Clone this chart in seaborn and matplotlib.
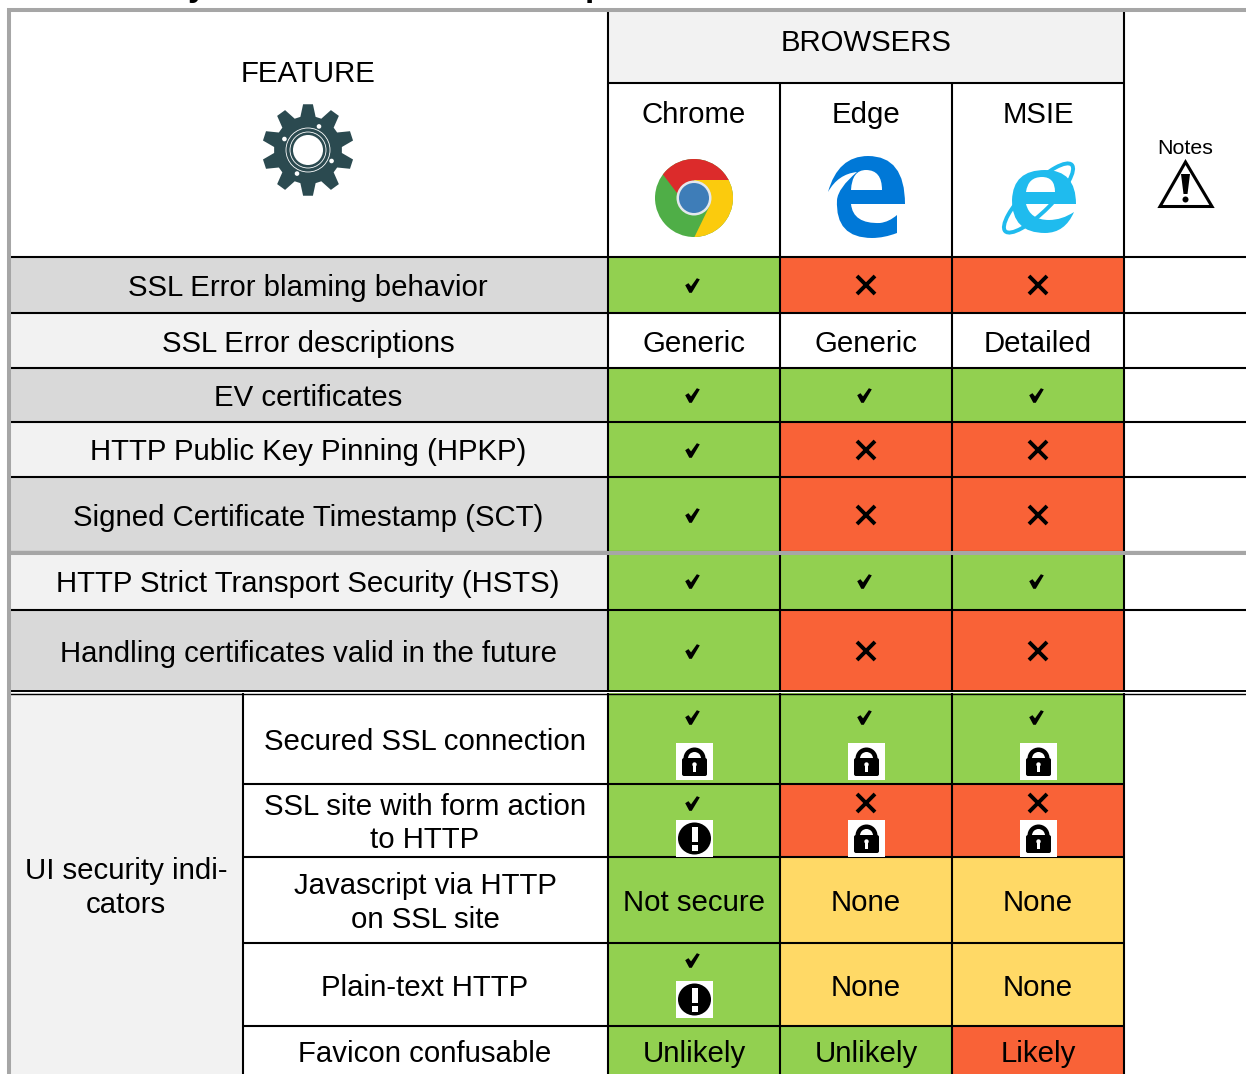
import matplotlib
matplotlib.use("Agg")
import matplotlib.pyplot as plt
import numpy as np
import seaborn as sns
from matplotlib.colors import ListedColormap
from matplotlib.patches import Circle, Ellipse, FancyBboxPatch, PathPatch, Polygon, Rectangle, Wedge
from matplotlib.path import Path

# --- table content ---
browsers = ["Chrome", "Edge", "MSIE"]
features = [
    "SSL Error blaming behavior",
    "SSL Error descriptions",
    "EV certificates",
    "HTTP Public Key Pinning (HPKP)",
    "Signed Certificate Timestamp (SCT)",
    "HTTP Strict Transport Security (HSTS)",
    "Handling certificates valid in the future",
]
feature_shade = ["dark", "light", "dark", "light", "dark", "light", "dark"]
chrome_feat = ["yes", "Generic", "yes", "yes", "yes", "yes", "yes"]
edge_feat = ["no", "Generic", "yes", "no", "no", "yes", "no"]
msie_feat = ["no", "Detailed", "yes", "no", "no", "yes", "no"]

group_label = "UI security indi-\ncators"
ui_rows = [
    "Secured SSL connection",
    "SSL site with form action\nto HTTP",
    "Javascript via HTTP\non SSL site",
    "Plain-text HTTP",
    "Favicon confusable",
]
chrome_ui = ["yes+lock", "yes+warn", "Not secure", "yes+warn", "Unlikely"]
edge_ui = ["yes+lock", "no+lock", "None", "None", "Unlikely"]
msie_ui = ["yes+lock", "no+lock", "None", "None", "Likely"]

# --- layout in pixels ---
col_edges = [0, 10, 243, 608, 780, 952, 1124, 1246]
head_edges = [0, 12, 83, 257]
feat_edges = [257, 313, 368, 422, 477, 552, 610, 691]
ui_edges = [693, 784, 857, 943, 1026, 1074]

colors = {
    "white": "#FFFFFF",
    "dark": "#D9D9D9",
    "light": "#F2F2F2",
    "green": "#92D050",
    "red": "#F96237",
    "yellow": "#FFD966",
}
code = {k: i for i, k in enumerate(colors)}


def cell_color(value):
    if value.startswith("yes") or value in ("Not secure", "Unlikely"):
        return "green"
    if value.startswith("no") or value == "Likely":
        return "red"
    if value == "None":
        return "yellow"
    return "white"


# coarse table of colours, one row per band
bands = [
    ["white"] * 7,
    ["white", "white", "white", "light", "light", "light", "white"],
    ["white"] * 7,
]
band_heights = list(np.diff(head_edges))
for i in range(len(features)):
    s = feature_shade[i]
    bands.append(["white", s, s, cell_color(chrome_feat[i]), cell_color(edge_feat[i]),
                  cell_color(msie_feat[i]), "white"])
    band_heights.append(feat_edges[i + 1] - feat_edges[i])
bands.append(["white"] * 7)
band_heights.append(ui_edges[0] - feat_edges[-1])
for i in range(len(ui_rows)):
    bands.append(["white", "light", "white", cell_color(chrome_ui[i]), cell_color(edge_ui[i]),
                  cell_color(msie_ui[i]), "white"])
    band_heights.append(ui_edges[i + 1] - ui_edges[i])

coarse = np.array([[code[c] for c in row] for row in bands])
grid = np.repeat(np.repeat(coarse, band_heights, axis=0), np.diff(col_edges), axis=1)

sns.set_theme(style="white")
plt.rcParams["font.family"] = ["Liberation Sans", "DejaVu Sans"]

fig = plt.figure(figsize=(12.46, 10.74), dpi=100)
ax = fig.add_axes([0, 0, 1, 1])
sns.heatmap(grid, ax=ax, cmap=ListedColormap(list(colors.values())), vmin=-0.5,
            vmax=len(colors) - 0.5, cbar=False, xticklabels=False, yticklabels=False,
            rasterized=True)
ax.set_xlim(0, 1246)
ax.set_ylim(1074, 0)
ax.axis("off")

BLACK_LW = 1.5
GREY = "#A6A6A6"

# rules
ax.hlines(feat_edges[:-2], 10, 1246, color="black", lw=BLACK_LW, zorder=3)
ax.hlines(610, 10, 1246, color="black", lw=BLACK_LW, zorder=3)
ax.hlines(690.8, 10, 1246, color="black", lw=1.4, zorder=3)
ax.hlines(693.6, 10, 1246, color="black", lw=1.0, zorder=3)
ax.hlines(83, 608, 1124, color="black", lw=BLACK_LW, zorder=3)
ax.hlines(ui_edges[1:-1], 243, 1124, color="black", lw=BLACK_LW, zorder=3)
ax.vlines([608, 1124], 12, 690, color="black", lw=BLACK_LW, zorder=3)
ax.vlines([780, 952], 83, 690, color="black", lw=BLACK_LW, zorder=3)
ax.vlines([243, 608, 780, 952, 1124], 693, 1074, color="black", lw=BLACK_LW, zorder=3)
ax.hlines(553, 10, 1246, color=GREY, lw=2.9, zorder=4)
ax.hlines(10, 7, 1246, color=GREY, lw=2.9, zorder=4)
ax.vlines(9, 8, 1074, color=GREY, lw=2.9, zorder=4)

# clipped descenders of the caption above the table
ax.text(197, -4, "y", fontsize=24, fontweight="bold", ha="center", va="baseline", color="black", clip_on=True)
ax.text(595, -4, "p", fontsize=24, fontweight="bold", ha="center", va="baseline", color="black", clip_on=True)

FS = 21.2


def put_text(x, y, s, **kw):
    ax.text(x, y + 3, s, ha="center", va="center", color="black", fontsize=FS, zorder=5, **kw)


put_text(308, 71, "FEATURE")
put_text(866, 40, "BROWSERS")
for i, b in enumerate(browsers):
    put_text(694 + 172 * i, 112, b)
ax.text(1185, 148, "Notes", ha="center", va="center", fontsize=15.4, color="black", zorder=5)


def curve_patch(points, color, z=5):
    # closed outline: first point, then control/end pairs of quadratic curves
    verts = [points[0]]
    codes = [Path.MOVETO]
    for p in points[1:]:
        verts.append(p)
        codes.append(Path.CURVE3)
    verts.append(points[0])
    codes.append(Path.CLOSEPOLY)
    ax.add_patch(PathPatch(Path(verts, codes), fc=color, ec="none", zorder=z))


# gear
gear_c = "#2B4A50"
n_teeth = 10
pts = []
for k in range(n_teeth):
    a = 2 * np.pi * k / n_teeth
    step = 2 * np.pi / n_teeth
    for frac, r in [(-0.36, 34), (-0.17, 46), (0.17, 46), (0.36, 34)]:
        pts.append((308 + r * np.sin(a + frac * step), 150 - r * np.cos(a + frac * step)))
ax.add_patch(Polygon(pts, closed=True, fc=gear_c, ec="none", zorder=5))
ax.add_patch(Circle((308, 150), 15, fc="white", ec="none", zorder=6))
for r in (18, 22):
    ax.add_patch(Circle((308, 150), r, fc="none", ec="white", lw=0.6, zorder=6))
for deg in (25, 115, 205, 295):
    ax.add_patch(Circle((308 + 26 * np.sin(np.radians(deg)), 150 - 26 * np.cos(np.radians(deg))),
                        2.3, fc="white", ec="none", zorder=6))

# chrome logo
disc = Circle((694, 198), 39, transform=ax.transData, fc="#4FAE47", ec="none", zorder=5)
ax.add_patch(disc)
red = Polygon([(680, 197), (655, 164), (655, 150), (740, 150), (740, 180), (694, 180)],
              closed=True, fc="#DC2B2B", ec="none", zorder=5)
yel = Polygon([(740, 180), (694, 180), (710, 205), (693, 240), (740, 240)],
              closed=True, fc="#FBCB0D", ec="none", zorder=5)
ax.add_patch(red)
ax.add_patch(yel)
red.set_clip_path(disc)
yel.set_clip_path(disc)
ax.add_patch(Circle((694, 198), 17.5, fc="#E4E8EC", ec="none", zorder=6))
ax.add_patch(Circle((694, 198), 15, fc="#3E7DB8", ec="none", zorder=6))

# edge logo
edge_blue = "#0078D7"
curve_patch([(828, 192), (838, 156), (868, 156), (905, 156), (905, 204), (878, 204), (851, 204),
             (853, 224), (880, 223), (889, 222), (897, 215), (897, 224), (897, 233),
             (884, 238), (872, 238), (835, 238), (837, 200), (838, 188), (857, 172),
             (838, 174), (828, 192)], edge_blue)
curve_patch([(851, 190), (852, 170), (866, 170), (882, 170), (882, 190), (866, 190), (851, 190)], "white", z=6)

# ie logo
ie_blue = "#1FBBEE"
ax.add_patch(Ellipse((1038.5, 198), 94, 27, angle=-45, fc="none", ec=ie_blue, lw=2.8, zorder=5))
curve_patch([(1012, 200), (1013, 170), (1045, 170), (1076, 170), (1076, 204), (1051, 204), (1026, 204),
             (1030, 220), (1049, 220), (1062, 220), (1074, 212), (1065, 233), (1045, 233),
             (1012, 233), (1012, 200)], ie_blue, z=6)
curve_patch([(1026, 192), (1028, 177), (1042, 177), (1055, 177), (1055, 192), (1040, 192), (1026, 192)], "white", z=7)

# warning triangle
ax.add_patch(Polygon([(1185.5, 162), (1160, 206.5), (1212, 206.5)], closed=True, fc="white", ec="black", lw=2.2, zorder=5))
ax.add_patch(Polygon([(1181, 174), (1190, 174), (1187.5, 194), (1183.5, 194)], closed=True, fc="black", ec="none", zorder=6))
ax.add_patch(Circle((1185.5, 199.5), 3, fc="black", ec="none", zorder=6))

# cell marks
check_path = Path([(-0.5, 0.02), (-0.28, 0.16), (-0.1, -0.06), (0.3, 0.5), (0.5, 0.42), (-0.05, -0.5), (-0.22, -0.5), (-0.5, 0.02)], closed=True)


def put_check(x, y):
    ax.plot([x], [y], marker=check_path, ms=10.5, mfc="black", mec="none", ls="none", zorder=6)


def put_cross(x, y):
    ax.plot([x], [y], marker="x", ms=13, mec="black", mew=2.8, ls="none", zorder=6)


def put_lock(x, y):
    ax.add_patch(Rectangle((x - 18.5, y - 18.5), 37, 37, fc="white", ec="none", zorder=5))
    ax.add_patch(FancyBboxPatch((x - 11, y - 2), 22, 15, boxstyle="round,pad=1.5,rounding_size=2", fc="black", ec="none", zorder=6))
    ax.add_patch(Wedge((x, y - 3), 11, 180, 360, width=4.5, fc="black", ec="none", zorder=6))
    ax.add_patch(Rectangle((x - 11, y - 3), 4.5, 3, fc="black", ec="none", zorder=6))
    ax.add_patch(Rectangle((x + 6.5, y - 3), 4.5, 3, fc="black", ec="none", zorder=6))
    ax.add_patch(Circle((x, y + 3), 2.2, fc="white", ec="none", zorder=7))
    ax.add_patch(Rectangle((x - 1.5, y + 3), 3, 7, fc="white", ec="none", zorder=7))


def put_warn(x, y):
    ax.add_patch(Rectangle((x - 18.5, y - 18.5), 37, 37, fc="white", ec="none", zorder=5))
    ax.add_patch(Ellipse((x, y), 33, 32, fc="black", ec="none", zorder=6))
    ax.add_patch(Rectangle((x - 3, y - 12), 6, 15, fc="white", ec="none", zorder=7))
    ax.add_patch(Rectangle((x - 3, y + 6), 6, 6, fc="white", ec="none", zorder=7))


for r in range(len(features)):
    yc = (feat_edges[r] + feat_edges[r + 1]) / 2
    put_text(308, yc, features[r])
    for c, vals in enumerate([chrome_feat, edge_feat, msie_feat]):
        xc = 694 + 172 * c
        v = vals[r]
        if v == "yes":
            put_check(xc - 2, yc)
        elif v == "no":
            put_cross(xc, yc)
        else:
            put_text(xc, yc, v)

put_text(126, 885, group_label, linespacing=1.27)

# vertical placement of the two stacked marks in the ui rows
stack_pos = {0: (717, 761.5), 1: (803, 838.5), 3: (960, 999.5)}
for r in range(len(ui_rows)):
    yc = (ui_edges[r] + ui_edges[r + 1]) / 2
    if r == 4:
        yc = 1050.5
    put_text(425, yc, ui_rows[r], linespacing=1.27)
    for c, vals in enumerate([chrome_ui, edge_ui, msie_ui]):
        xc = 694 + 172 * c
        v = vals[r]
        if "+" in v:
            top, bottom = v.split("+")
            y_top, y_bot = stack_pos[r]
            if top == "yes":
                put_check(xc - 2, y_top)
            else:
                put_cross(xc, y_top)
            if bottom == "lock":
                put_lock(xc + 0.5, y_bot)
            else:
                put_warn(xc + 0.5, y_bot)
        else:
            put_text(xc, yc, v)

fig.savefig("out.png", dpi=100)
